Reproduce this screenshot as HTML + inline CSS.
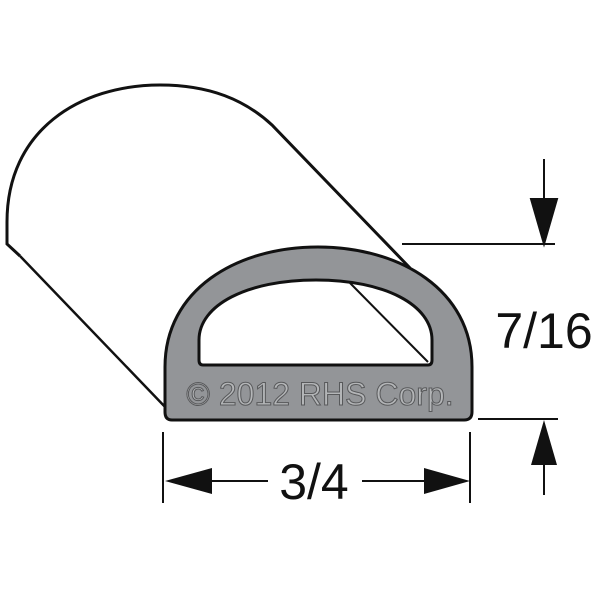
<!DOCTYPE html>
<html><head><style>body{margin:0;background:#fff}svg{display:block}</style></head><body>
<svg width="600" height="600" viewBox="0 0 600 600" xmlns="http://www.w3.org/2000/svg">
<rect width="600" height="600" fill="#fff"/>
<path d="M20,256 L7,244 L7,222 C7,130 80,85 160,85 C210,85 245,100 272,125 L410,268" fill="none" stroke="#111" stroke-width="3"/>
<line x1="20" y1="256" x2="168" y2="410" stroke="#111" stroke-width="2.5"/>
<path d="M172,420 L464,420 Q472,420 472,412 L472,367 C472,290 400,247 318,247 C236,247 165,290 165,367 L165,412 Q165,420 172,420 Z" fill="#939598" stroke="#111" stroke-width="3"/>
<path d="M203,365 L428,365 Q432,365 432,360 L432,340 C432,305 385,280 316,280 C247,280 199,305 199,340 L199,360 Q199,365 203,365 Z" fill="#fff" stroke="#111" stroke-width="3"/>
<line x1="350" y1="283" x2="428" y2="362" stroke="#111" stroke-width="2"/>
<text x="320" y="405" font-family="Liberation Sans, sans-serif" font-size="32" text-anchor="middle" fill="#b4b6b8" stroke="#58595b" stroke-width="1">© 2012 RHS Corp.</text>
<g stroke="#111" stroke-width="2" fill="#111">
<line x1="402" y1="244" x2="555" y2="244"/>
<line x1="544" y1="159" x2="544" y2="205"/>
<polygon points="531,199 557,199 544,244"/>
<line x1="478" y1="419" x2="558" y2="419"/>
<line x1="544" y1="460" x2="544" y2="495"/>
<polygon points="531,465 557,465 544,420" stroke="none"/>
<line x1="163" y1="432" x2="163" y2="503"/>
<line x1="470" y1="432" x2="470" y2="503"/>
<line x1="200" y1="481" x2="268" y2="481"/>
<line x1="362" y1="481" x2="430" y2="481"/>
<polygon points="165,481 212,468 212,494" stroke="none"/>
<polygon points="470,481 424,468 424,494" stroke="none"/>
</g>
<text x="314" y="499" font-family="Liberation Sans, sans-serif" font-size="50" text-anchor="middle" fill="#111">3/4</text>
<text x="544" y="348" font-family="Liberation Sans, sans-serif" font-size="50" text-anchor="middle" fill="#111">7/16</text>
</svg>
</body></html>
